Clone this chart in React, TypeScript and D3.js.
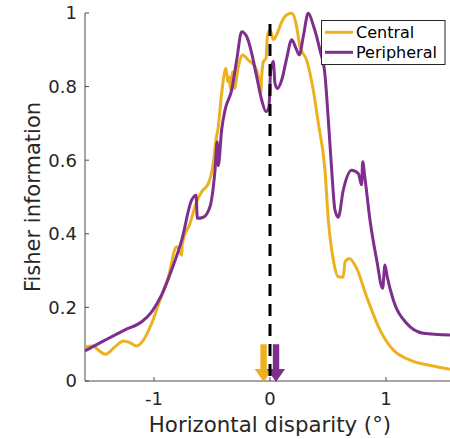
import React from "react";
import * as d3 from "d3";

const W = 450;
const H = 439;

const xTicks = [-1, 0, 1];
const yTicks = [0, 0.2, 0.4, 0.6, 0.8, 1];
const yTickLabels = ["0", "0.2", "0.4", "0.6", "0.8", "1"];
const xTickLabels = ["-1", "0", "1"];

const seriesNames = ["Central", "Peripheral"];
const seriesColors = ["#EDB120", "#7E2F8E"];

const centralX = [-1.595, -1.523, -1.48, -1.417, -1.336, -1.264, -1.207, -1.149, -1.092, -1.02, -0.948, -0.876, -0.805, -0.761, -0.756, -0.69, -0.632, -0.589, -0.531, -0.489, -0.466, -0.446, -0.417, -0.379, -0.365, -0.351, -0.339, -0.322, -0.307, -0.273, -0.236, -0.187, -0.129, -0.1, -0.08, -0.072, -0.057, -0.034, -0.023, 0, 0.029, 0.063, 0.101, 0.144, 0.187, 0.224, 0.259, 0.316, 0.373, 0.417, 0.474, 0.503, 0.546, 0.589, 0.632, 0.647, 0.684, 0.747, 0.833, 0.948, 1.063, 1.207, 1.408, 1.552];
const centralY = [0.093, 0.095, 0.084, 0.073, 0.093, 0.109, 0.104, 0.095, 0.111, 0.157, 0.22, 0.283, 0.365, 0.342, 0.374, 0.428, 0.487, 0.514, 0.537, 0.592, 0.655, 0.69, 0.782, 0.85, 0.813, 0.827, 0.791, 0.84, 0.795, 0.854, 0.886, 0.872, 0.854, 0.827, 0.782, 0.827, 0.868, 0.877, 0.936, 0.954, 0.928, 0.945, 0.976, 0.995, 0.999, 0.972, 0.908, 0.872, 0.791, 0.7, 0.573, 0.4375, 0.329, 0.283, 0.282, 0.324, 0.333, 0.306, 0.229, 0.139, 0.084, 0.057, 0.041, 0.032];

const peripheralX = [-1.595, -1.422, -1.25, -1.106, -1.02, -0.934, -0.848, -0.761, -0.675, -0.638, -0.626, -0.575, -0.517, -0.474, -0.455, -0.446, -0.417, -0.388, -0.33, -0.287, -0.244, -0.201, -0.158, -0.115, -0.072, -0.034, -0.009, 0.006, 0.029, 0.043, 0.063, 0.101, 0.144, 0.187, 0.224, 0.253, 0.287, 0.33, 0.373, 0.431, 0.474, 0.503, 0.532, 0.56, 0.589, 0.632, 0.704, 0.761, 0.79, 0.799, 0.819, 0.862, 0.92, 0.971, 0.991, 1.011, 1.063, 1.178, 1.322, 1.552];
const peripheralY = [0.082, 0.111, 0.139, 0.161, 0.188, 0.234, 0.302, 0.383, 0.492, 0.505, 0.442, 0.445, 0.474, 0.573, 0.65, 0.585, 0.682, 0.736, 0.791, 0.872, 0.949, 0.936, 0.891, 0.827, 0.764, 0.732, 0.745, 0.845, 0.868, 0.809, 0.795, 0.818, 0.877, 0.927, 0.904, 0.886, 0.936, 0.999, 0.967, 0.899, 0.832, 0.709, 0.573, 0.465, 0.445, 0.519, 0.573, 0.564, 0.533, 0.596, 0.551, 0.4375, 0.329, 0.252, 0.315, 0.283, 0.22, 0.157, 0.13, 0.125];

// peak-disparity arrows
const arrowX = [-0.055, 0.052];
const arrowTop = 0.1;
const dashTop = 0.97;

const FONT = "'DejaVu Sans', sans-serif";
const TXT = "#262626";

export default function App() {
  const x = d3.scaleLinear().domain([-1.595, 1.552]).range([85, 450]);
  const y = d3.scaleLinear().domain([0, 1]).range([381, 13]);

  const line = d3
    .line<[number, number]>()
    .x((d) => x(d[0]))
    .y((d) => y(d[1]))
    .curve(d3.curveMonotoneX);

  const series = [
    centralX.map((v, i) => [v, centralY[i]] as [number, number]),
    peripheralX.map((v, i) => [v, peripheralY[i]] as [number, number]),
  ];

  const arrowPath = (xv: number) => {
    const cx = x(xv);
    const top = y(arrowTop);
    const tip = y(0) + 1;
    const headBase = tip - 13;
    const sw = 3.2;
    const hw = 9;
    return `M${cx - sw},${top} L${cx + sw},${top} L${cx + sw},${headBase} L${cx + hw},${headBase} L${cx},${tip} L${cx - hw},${headBase} L${cx - sw},${headBase} Z`;
  };

  return (
    <svg
      width={W}
      height={H}
      style={{ position: "absolute", left: 0, top: 0, background: "#fff" }}
      fontFamily={FONT}
    >
      <rect x={0} y={0} width={W} height={H} fill="#fff" />
      {/* axes */}
      <line x1={85} x2={85} y1={y(1)} y2={y(0)} stroke="#4d4d4d" strokeWidth={1} />
      <line x1={85} x2={450} y1={y(0)} y2={y(0)} stroke="#4d4d4d" strokeWidth={1} />
      {yTicks.map((t, i) => (
        <g key={"y" + i}>
          <line x1={85} x2={89} y1={y(t)} y2={y(t)} stroke="#4d4d4d" strokeWidth={1} />
          <text x={77} y={y(t)} dy="0.36em" textAnchor="end" fontSize={18} fill={TXT}>
            {yTickLabels[i]}
          </text>
        </g>
      ))}
      {xTicks.map((t, i) => (
        <g key={"x" + i}>
          <line x1={x(t)} x2={x(t)} y1={y(0)} y2={y(0) - 4} stroke="#4d4d4d" strokeWidth={1} />
          <text x={x(t)} y={405} textAnchor="middle" fontSize={18} fill={TXT}>
            {xTickLabels[i]}
          </text>
        </g>
      ))}
      <text x={270} y={432} textAnchor="middle" fontSize={21.3} fill={TXT}>
        Horizontal disparity (°)
      </text>
      <text
        transform={`translate(40,${(y(0) + y(1)) / 2}) rotate(-90)`}
        textAnchor="middle"
        fontSize={21}
        fill={TXT}
      >
        Fisher information
      </text>

      {/* curves */}
      {series.map((s, i) => (
        <path
          key={"s" + i}
          d={line(s) || ""}
          fill="none"
          stroke={seriesColors[i]}
          strokeWidth={3}
          strokeLinejoin="round"
        />
      ))}

      {/* arrows */}
      {arrowX.map((v, i) => (
        <path key={"a" + i} d={arrowPath(v)} fill={seriesColors[i]} />
      ))}

      {/* zero line */}
      <line
        x1={x(0)}
        x2={x(0)}
        y1={y(dashTop)}
        y2={y(0)}
        stroke="#000"
        strokeWidth={3}
        strokeDasharray="12 8"
      />

      {/* legend */}
      <rect x={321.5} y={20.5} width={123.5} height={44} fill="#fff" stroke="#262626" strokeWidth={1} />
      {seriesNames.map((n, i) => (
        <g key={"l" + i}>
          <line
            x1={325}
            x2={353}
            y1={32.3 + i * 20}
            y2={32.3 + i * 20}
            stroke={seriesColors[i]}
            strokeWidth={3}
          />
          <text x={356} y={32.3 + i * 20} dy="0.36em" fontSize={16} fill="#000">
            {n}
          </text>
        </g>
      ))}
    </svg>
  );
}
